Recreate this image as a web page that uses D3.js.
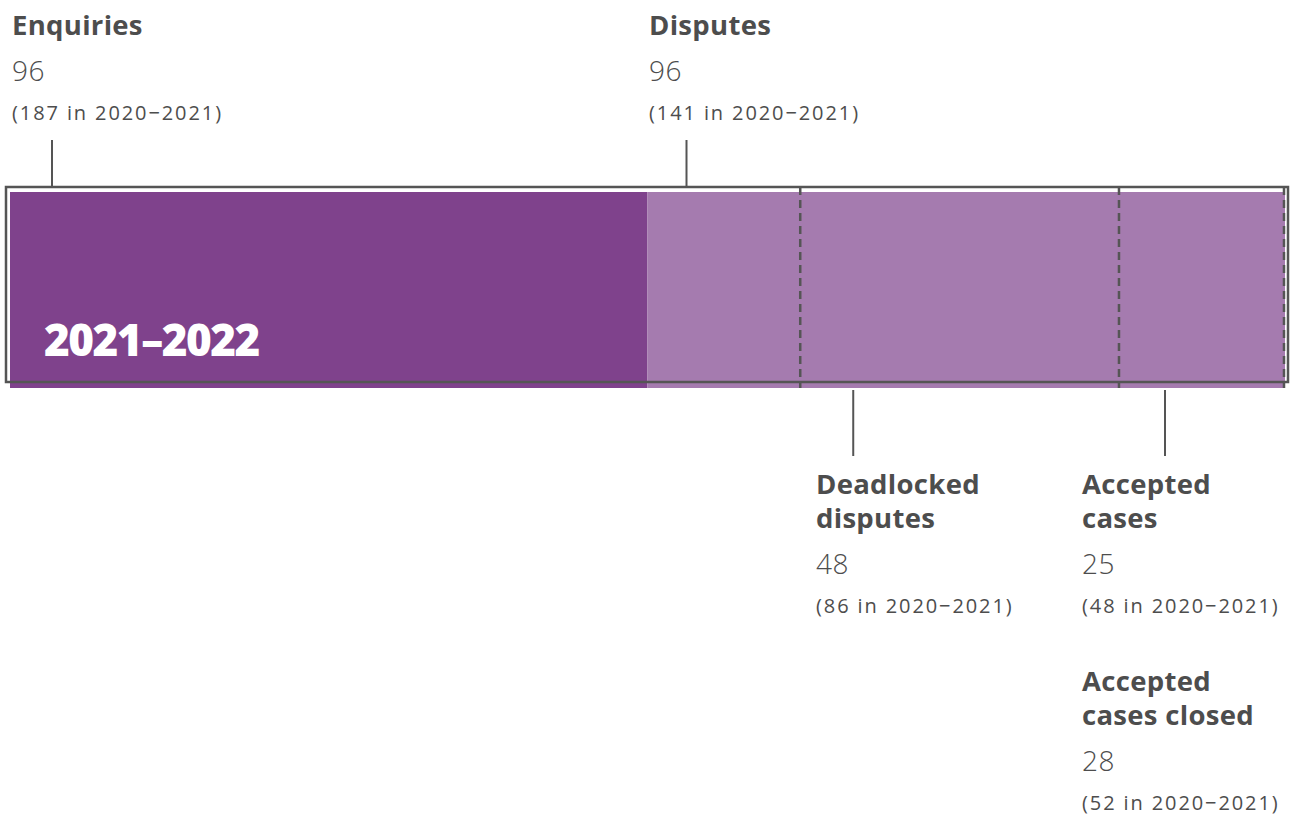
<!DOCTYPE html>
<html>
<head>
<meta charset="utf-8">
<script src="https://cdn.jsdelivr.net/npm/d3@7"></script>
<style>
  body { margin: 0; background: #fff; }
  svg text { font-family: "Open Sans", "Lato", sans-serif; fill: #4d4d4d; }
</style>
</head>
<body>
<div id="chart"></div>
<script>
// Stages of the complaints process, in the order they are drawn
let stageLines = [["Enquiries"], ["Disputes"], ["Deadlocked", "disputes"], ["Accepted", "cases"], ["Accepted", "cases closed"]];
let currentValues = [96, 96, 48, 25, 28];
let previousValues = [187, 141, 86, 48, 52];
let currentYear = "2021–2022";
let previousYear = "2020−2021";

let width = 1297, height = 819;
let barTop = 192, barHeight = 196;

let svg = d3.select("#chart").append("svg")
    .attr("width", width)
    .attr("height", height);

// Enquiries then disputes side by side; deadlocked and accepted sit at the end of disputes
let total = currentValues[0] + currentValues[1];
let x = d3.scaleLinear().domain([0, total]).range([10, 1285]);

let segments = [
    {start: 0, end: currentValues[0], color: "#7f428c"},
    {start: currentValues[0], end: total, color: "#a57baf"}
];
svg.selectAll("rect.seg")
    .data(segments)
    .enter()
    .append("rect")
        .attr("class", "seg")
        .attr("x", d => x(d.start))
        .attr("y", barTop)
        .attr("width", d => x(d.end) - x(d.start))
        .attr("height", barHeight)
        .attr("fill", d => d.color);

// Outline, drawn a little up and left of the fill
svg.append("rect")
    .attr("x", x(0) - 4)
    .attr("y", barTop - 5)
    .attr("width", x(total) - x(0) + 7)
    .attr("height", barHeight - 1)
    .attr("fill", "none")
    .attr("stroke", "#555")
    .attr("stroke-width", 2.5);

// Dashed dividers for deadlocked disputes and accepted cases
let deadlockStart = total - currentValues[2] - currentValues[3];
let acceptedStart = total - currentValues[3];
svg.selectAll("line.div")
    .data([deadlockStart, acceptedStart, total])
    .enter()
    .append("line")
        .attr("class", "div")
        .attr("x1", d => x(d) - (d === total ? 1 : 0))
        .attr("x2", d => x(d) - (d === total ? 1 : 0))
        .attr("y1", barTop - 5)
        .attr("y2", barTop + barHeight)
        .attr("stroke", "#555")
        .attr("stroke-width", 2.5)
        .attr("stroke-dasharray", "8,5");

// Label blocks: where each points on the bar and where its text goes
let blocks = [
    {i: 0, at: 0, off: 42, tx: 12, top: true, y: 35},
    {i: 1, at: currentValues[0], off: 39, tx: 649, top: true, y: 35},
    {i: 2, at: deadlockStart, off: 53, tx: 816, top: false, y: 494},
    {i: 3, at: acceptedStart, off: 46, tx: 1082, top: false, y: 494},
    {i: 4, at: null, tx: 1082, top: false, y: 691}
];

blocks.forEach(function(b) {
    if (b.at !== null) {
        let lx = x(b.at) + b.off;
        svg.append("line")
            .attr("x1", lx).attr("x2", lx)
            .attr("y1", b.top ? 140 : 390)
            .attr("y2", b.top ? 187 : 456)
            .attr("stroke", "#555")
            .attr("stroke-width", 2);
    }
    let lines = stageLines[b.i];
    let y = b.y;
    lines.forEach(function(t, k) {
        svg.append("text")
            .attr("x", b.tx)
            .attr("y", y + k * 34)
            .style("font-size", "27.5px")
            .style("font-weight", 700)
            .style("letter-spacing", "0.3px")
            .text(t);
    });
    let ny = y + (lines.length - 1) * 34;
    svg.append("text")
        .attr("x", b.tx)
        .attr("y", ny + 46)
        .style("font-size", "28px")
        .style("font-weight", 300)
        .style("letter-spacing", "0.5px")
        .text(currentValues[b.i]);
    svg.append("text")
        .attr("x", b.tx)
        .attr("y", ny + 85)
        .style("font-size", "20px")
        .style("font-weight", 400)
        .style("letter-spacing", "1.9px")
        .text("(" + previousValues[b.i] + " in " + previousYear + ")");
});

svg.append("text")
    .attr("x", 44)
    .attr("y", 356)
    .style("font-size", "44px")
    .style("font-weight", 800)
    .style("fill", "#fff")
    .style("letter-spacing", "-1.5px")
    .text(currentYear);
</script>
</body>
</html>
